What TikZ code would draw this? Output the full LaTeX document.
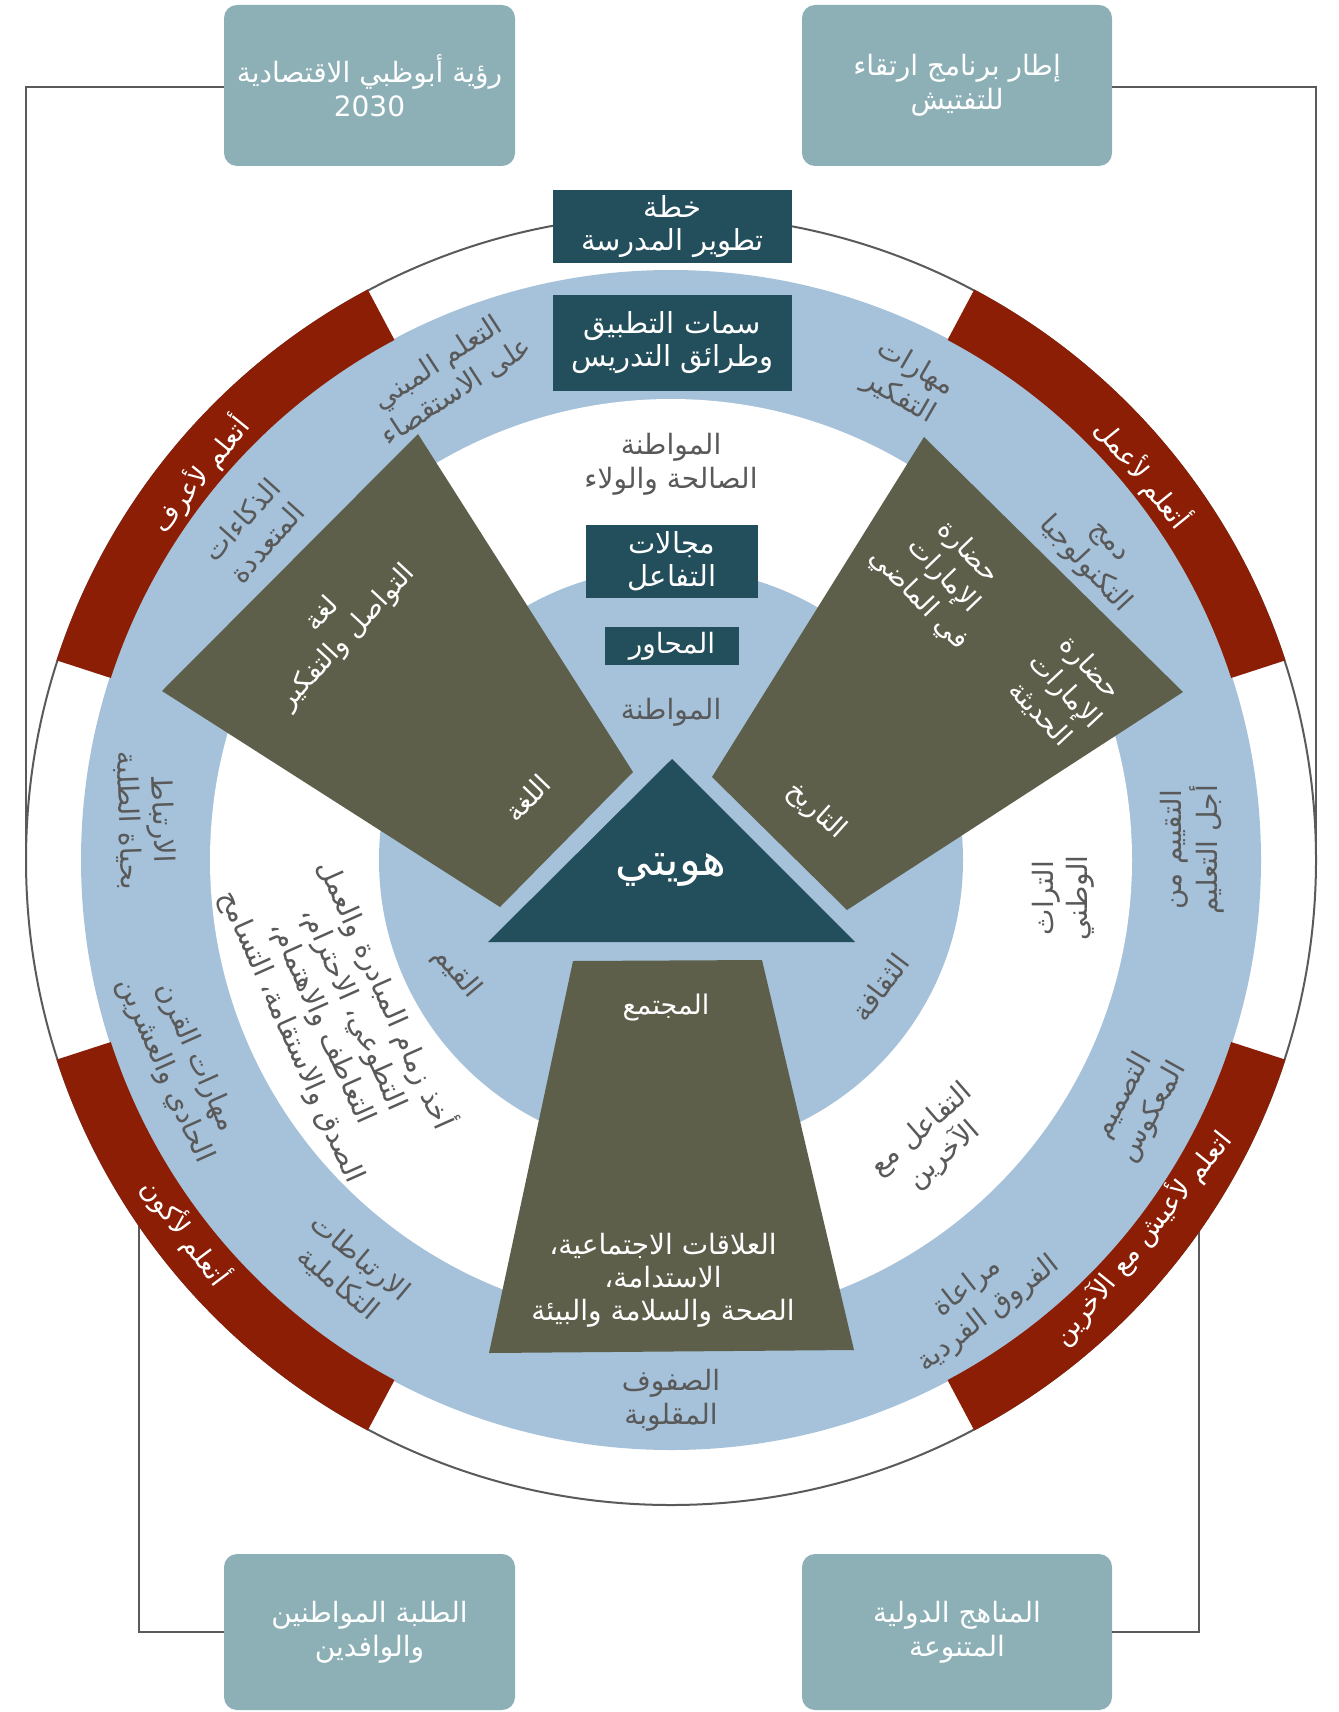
\documentclass[tikz,border=0pt]{standalone}
\usepackage{fontspec}
\setmainfont{DejaVu Sans}
\newfontfamily\arabicfont[Script=Arabic]{DejaVu Sans}
\TeXXeTstate=1
\newcommand\ar[1]{\beginR #1\endR}
\usetikzlibrary{calc}
\definecolor{ringblue}{HTML}{A5C2DA}
\definecolor{redarc}{HTML}{8B1E04}
\definecolor{olive}{HTML}{5E5F4B}
\definecolor{darkteal}{HTML}{234E5B}
\definecolor{boxteal}{HTML}{8CB0B6}
\definecolor{txtgray}{HTML}{595959}
\definecolor{linegray}{HTML}{5A5A5A}
\begin{document}
\begin{tikzpicture}[x=1pt,y=1pt,
  lbl/.style={font=\arabicfont\fontsize{28}{34}\selectfont, text=txtgray, align=center, inner sep=0pt},
  wlbl/.style={font=\arabicfont\fontsize{27}{34}\selectfont, text=white, align=center, inner sep=0pt},
  redlbl/.style={font=\arabicfont\fontsize{27}{31}\selectfont, text=white, align=center, inner sep=0pt},
  darkbox/.style={fill=darkteal, text=white, font=\arabicfont\fontsize{29}{33}\selectfont, align=center, inner sep=0pt},
  tealbox/.style={fill=boxteal, rounded corners=13pt, text=white, font=\arabicfont\fontsize{28}{34}\selectfont, align=center, inner sep=0pt},
  conn/.style={draw=linegray, line width=2pt},
]
\useasboundingbox (0,0) rectangle (1338,-1712);
\fill[white] (0,0) rectangle (1338,-1712);
\coordinate (C) at (671,-860);

% outer boxes
\node[tealbox, minimum width=291pt, minimum height=161pt] (tl) at (369.5,-85.5) {\ar{رؤية أبوظبي الاقتصادية}\\2030};
\node[tealbox, minimum width=310pt, minimum height=161pt] (tr) at (957,-85.5) {\ar{إطار برنامج ارتقاء}\\\ar{للتفتيش}};
\node[tealbox, minimum width=291pt, minimum height=156pt] (bl) at (369.5,-1632) {\ar{الطلبة المواطنين}\\\ar{والوافدين}};
\node[tealbox, minimum width=310pt, minimum height=156pt] (br) at (957,-1632) {\ar{المناهج الدولية}\\\ar{المتنوعة}};

% connector end points on the circle
\coordinate (cL) at (26,-860);
\coordinate (cR) at (1316,-860);
\coordinate (cBL) at (139,-1225);
\coordinate (cBR) at (1199,-1230);
\draw[conn] ([yshift=-2pt]tl.west) -| (cL);
\draw[conn] ([yshift=-2pt]tr.east) -| (cR);
\draw[conn] (bl.west) -| (cBL);
\draw[conn] (br.east) -| (cBR);

% rings
\draw[linegray, line width=2pt, fill=white] (C) circle (645);
\fill[ringblue] (C) circle (590);
\fill[white] (C) circle (461);
\fill[ringblue] (C) circle (292);
\foreach \a/\b in {18/62,118/162,198/242,298/342}{
  \fill[redarc] ($(C)+(\a:646)$) arc[start angle=\a,end angle=\b,radius=646] -- ($(C)+(\b:589)$) arc[start angle=\b,end angle=\a,radius=589] -- cycle;
}

% olive shapes
\fill[olive] (418,-434) -- (162,-691) -- (500,-907) -- (633,-772) -- cycle;
\fill[olive] (924,-437) -- (1183,-692) -- (847,-910) -- (712,-777) -- cycle;
\fill[olive] (573,-961) -- (762,-960) -- (854,-1350) -- (489,-1353) -- cycle;
% triangle
\fill[darkteal] (672,-759) -- (855,-942) -- (488,-942) -- cycle;

% dark boxes
\node[darkbox, minimum width=239pt, minimum height=73pt] (plan) at (672.5,-226.5) {\ar{خطة}\\\ar{تطوير المدرسة}};
\node[darkbox, minimum width=239pt, minimum height=96pt] (feat) at (672.5,-343) {\ar{سمات التطبيق}\\\ar{وطرائق التدريس}};
\node[darkbox, minimum width=172pt, minimum height=73pt] (dom) at (672,-561.5) {\ar{مجالات}\\\ar{التفاعل}};
\node[darkbox, font=\arabicfont\fontsize{28}{32}\selectfont, minimum width=134pt, minimum height=38pt] (axes) at (672,-646) {\ar{المحاور}};
\node[wlbl, font=\arabicfont\fontsize{45}{50}\selectfont] (me) at (671,-870) {\ar{هويتي}};

% blue ring labels
\node[lbl, rotate=33] (inq) at (447,-377) {\ar{التعلم المبني}\\\ar{على الاستقصاء}};
\node[lbl, rotate=-30] (think) at (907,-383) {\ar{مهارات}\\\ar{التفكير}};
\node[lbl, rotate=48] (mi) at (254,-531) {\ar{الذكاءات}\\\ar{المتعددة}};
\node[lbl, rotate=-47] (tech) at (1094,-556) {\ar{دمج}\\\ar{التكنولوجيا}};
\node[lbl, rotate=-88] (life) at (145,-820) {\ar{الارتباط}\\\ar{بحياة الطلبة}};
\node[lbl, rotate=90] (assess) at (1192,-850) {\ar{التقييم من}\\\ar{أجل التعليم}};
\node[lbl, rotate=-66] (skills) at (180,-1064) {\ar{مهارات القرن}\\\ar{الحادي والعشرين}};
\node[lbl, rotate=-40] (integ) at (349,-1271) {\ar{الارتباطات}\\\ar{التكاملية}};
\node[lbl] (flip) at (671,-1400) {\ar{الصفوف}\\\ar{المقلوبة}};
\node[lbl, rotate=38] (diff) at (978,-1301) {\ar{مراعاة}\\\ar{الفروق الفردية}};
\node[lbl, rotate=61] (back) at (1138,-1104) {\ar{التصميم}\\\ar{المعكوس}};

% white ring labels
\node[lbl] (good) at (671,-464) {\ar{المواطنة}\\\ar{الصالحة والولاء}};
\node[lbl, rotate=90] (herit) at (1063,-898) {\ar{التراث}\\\ar{الوطني}};
\node[lbl, rotate=41] (inter) at (933,-1143) {\ar{التفاعل مع}\\\ar{الآخرين}};
\node[lbl, rotate=-66] (vals) at (340,-1015) {\ar{أخذ زمام المبادرة والعمل}\\\ar{التطوعي، الاحترام،}\\\ar{التعاطف والاهتمام،}\\\ar{الصدق والاستقامة، التسامح}};

% inner circle labels
\node[lbl] (cit) at (671,-712) {\ar{المواطنة}};
\node[lbl, rotate=-50] (val) at (457,-973) {\ar{القيم}};
\node[lbl, rotate=53] (cult) at (880,-987) {\ar{الثقافة}};

% red arc labels
\node[redlbl, rotate=51] (know) at (200,-474) {\ar{أتعلم لأعرف}};
\node[redlbl, rotate=-51] (work) at (1143,-474) {\ar{أتعلم لأعمل}};
\node[redlbl, rotate=-53] (be) at (185,-1232) {\ar{أتعلم لأكون}};
\node[redlbl, rotate=51] (live) at (1142,-1238) {\ar{اتعلم لأعيش مع الآخرين}};

% olive labels
\node[wlbl, rotate=47] (lang1) at (335,-626) {\ar{لغة}\\\ar{التواصل والتفكير}};
\node[wlbl, rotate=46] (lang) at (527,-798) {\ar{اللغة}};
\node[wlbl, rotate=-46] (past) at (943,-576) {\ar{حضارة}\\\ar{الإمارات}\\\ar{في الماضي}};
\node[wlbl, rotate=-47] (modern) at (1065,-691) {\ar{حضارة}\\\ar{الإمارات}\\\ar{الحديثة}};
\node[wlbl, rotate=-42] (hist) at (816,-811) {\ar{التاريخ}};
\node[wlbl] (soc) at (666,-1008) {\ar{المجتمع}};
\node[wlbl, font=\arabicfont\fontsize{28}{33}\selectfont] (rel) at (663,-1280) {\ar{العلاقات الاجتماعية،}\\\ar{الاستدامة،}\\\ar{الصحة والسلامة والبيئة}};
\end{tikzpicture}
\end{document}
